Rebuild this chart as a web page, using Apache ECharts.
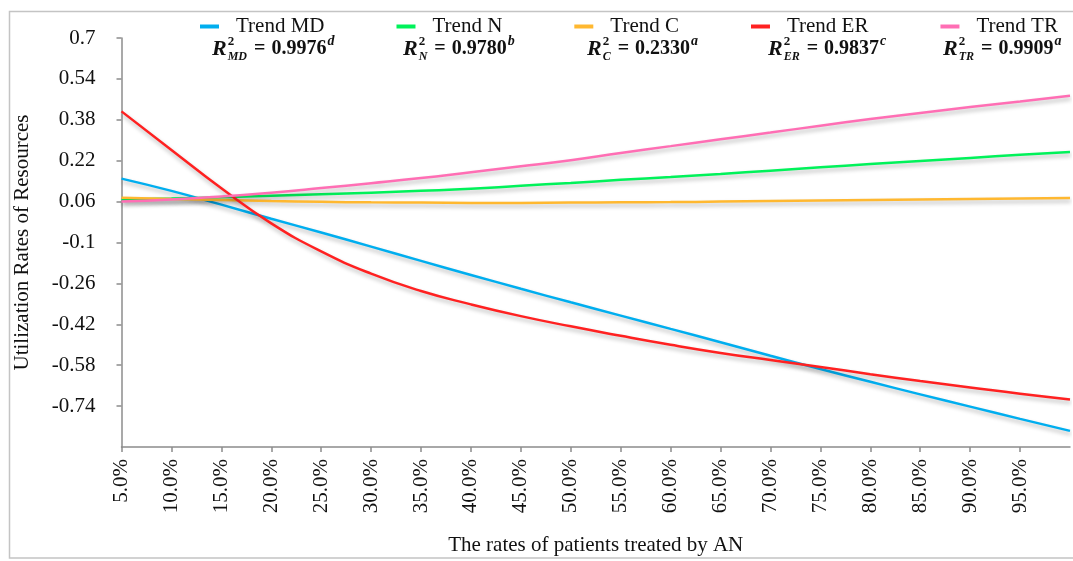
<!DOCTYPE html>
<html><head><meta charset="utf-8">
<script src="https://cdn.jsdelivr.net/npm/echarts@6/dist/echarts.min.js"></script>
<style>html,body{margin:0;padding:0;background:#fff}#c{width:1073px;height:561px}</style>
</head><body><div id="c"></div>
<script>
// ---- data ----
const xValues = [5,10,15,20,25,30,35,40,45,50,55,60,65,70,75,80,85,90,95,100];
const seriesNames = ['Trend MD','Trend N','Trend C','Trend ER','Trend TR'];
const trendMD = [0.150,0.102,0.048,-0.007,-0.061,-0.116,-0.172,-0.227,-0.281,-0.334,-0.386,-0.438,-0.490,-0.543,-0.595,-0.645,-0.694,-0.742,-0.790,-0.837];
const trendN  = [0.068,0.072,0.077,0.083,0.089,0.095,0.102,0.110,0.122,0.133,0.145,0.156,0.168,0.181,0.194,0.207,0.219,0.231,0.243,0.254];
const trendC  = [0.075,0.070,0.066,0.062,0.059,0.057,0.056,0.055,0.055,0.056,0.057,0.058,0.060,0.062,0.064,0.066,0.068,0.070,0.072,0.074];
const trendER = [0.413,0.262,0.112,-0.025,-0.135,-0.222,-0.290,-0.342,-0.388,-0.428,-0.465,-0.500,-0.532,-0.560,-0.587,-0.615,-0.642,-0.667,-0.692,-0.714];
const trendTR = [0.060,0.068,0.080,0.095,0.113,0.132,0.152,0.175,0.198,0.222,0.250,0.277,0.304,0.330,0.357,0.383,0.407,0.430,0.452,0.474];
const r2Subs   = ['MD','N','C','ER','TR'];
const r2Values = ['0.9976','0.9780','0.2330','0.9837','0.9909'];
const r2Marks  = ['d','b','a','c','a'];
const yMin = -0.9, yMax = 0.7, yStep = 0.16;
const xMin = 5, xMax = 100, xStep = 5;

// ---- styling ----
const colors = ['#00aeef','#00f25a','#ffb830','#ff2121','#ff6eb4'];
const serif = '"Liberation Serif", "Times New Roman", serif';
const axisGray = '#8c8c8c';
const allSeries = [trendMD, trendN, trendC, trendER, trendTR];

const chart = echarts.init(document.getElementById('c'));

const ctx = document.createElement('canvas').getContext('2d');
function tw(text, font){ ctx.font = font; return ctx.measureText(text).width; }

const formulaLeft = [212, 403, 587, 768, 943];
const fR = 'italic bold 22px ' + serif;
const fSmall = 'bold 13px ' + serif;
const fSub = 'italic bold 12px ' + serif;
const fMain = 'bold 20px ' + serif;
const fMark = 'italic bold 14px ' + serif;
const yMid = 49;
const graphics = [{
  type: 'rect', z: -1, silent: true,
  shape: {x: 9.5, y: 11.5, width: 1100, height: 546.5},
  style: {fill: 'none', stroke: '#c4c4c4', lineWidth: 1.5}
}];
function txt(x, y, text, font){
  return {type:'text', x:x, y:y, silent:true,
    style:{text:text, font:font, fill:'#111', textAlign:'left', textVerticalAlign:'middle'}};
}
r2Subs.forEach((sub, i) => {
  let x = formulaLeft[i];
  const wR = tw('R', fR);
  graphics.push(txt(x, yMid, 'R', fR));
  const xs = x + wR + 1;
  graphics.push(txt(xs, yMid - 7, '2', fSmall));
  graphics.push(txt(xs, yMid + 8, sub, fSub));
  const xe = xs + Math.max(tw('2', fSmall), tw(sub, fSub)) + 7;
  graphics.push(txt(xe, yMid, '=', fMain));
  const xv = xe + tw('=', fMain) + 6;
  graphics.push(txt(xv, yMid, r2Values[i], fMain));
  const xm = xv + tw(r2Values[i], fMain) + 1;
  graphics.push(txt(xm, yMid - 8, r2Marks[i], fMark));
});

const option = {
  backgroundColor: '#fff',
  animation: false,
  color: colors,
  grid: {left: 121.5, right: 3, top: 38, bottom: 114, containLabel: false},
  legend: {
    top: 16, left: 200, padding: 0, itemGap: 72, itemWidth: 19, itemHeight: 4, icon: 'rect',
    data: seriesNames,
    textStyle: {fontFamily: serif, fontSize: 21, color: '#111', padding: [0,0,0,12]}
  },
  xAxis: {
    type: 'value', min: xMin, max: xMax, interval: xStep,
    name: 'The rates of patients treated by AN', nameLocation: 'middle', nameGap: 88,
    nameTextStyle: {fontFamily: serif, fontSize: 21, color: '#111'},
    axisLine: {show: true, onZero: false, lineStyle: {color: axisGray, width: 1.5}},
    axisTick: {show: true, length: 5, lineStyle: {color: axisGray, width: 1.5}},
    splitLine: {show: false},
    axisLabel: {rotate: 90, margin: 12, showMaxLabel: false, fontFamily: serif, fontSize: 21, color: '#111',
      formatter: v => v.toFixed(1) + '%'}
  },
  yAxis: {
    type: 'value', min: yMin, max: yMax, interval: yStep,
    name: 'Utilization Rates of Resources', nameLocation: 'middle', nameGap: 89,
    nameTextStyle: {fontFamily: serif, fontSize: 21, color: '#111'},
    axisLine: {show: true, onZero: false, lineStyle: {color: axisGray, width: 1.5}},
    axisTick: {show: true, length: 5, lineStyle: {color: axisGray, width: 1.5}},
    splitLine: {show: false},
    axisLabel: {margin: 26, showMinLabel: false, fontFamily: serif, fontSize: 21, color: '#111',
      formatter: v => String(parseFloat(v.toFixed(2)))}
  },
  series: seriesNames.map((name, i) => ({
    name: name, type: 'line', smooth: 0.5, showSymbol: false, symbol: 'none',
    data: xValues.map((x, j) => [x, allSeries[i][j]]),
    lineStyle: {width: 2.5, color: colors[i], shadowColor: 'rgba(0,0,0,0.28)', shadowBlur: 4, shadowOffsetY: 3, shadowOffsetX: 1},
    z: 2 + i
  })),
  graphic: graphics
};
chart.setOption(option);
</script>
</body></html>
